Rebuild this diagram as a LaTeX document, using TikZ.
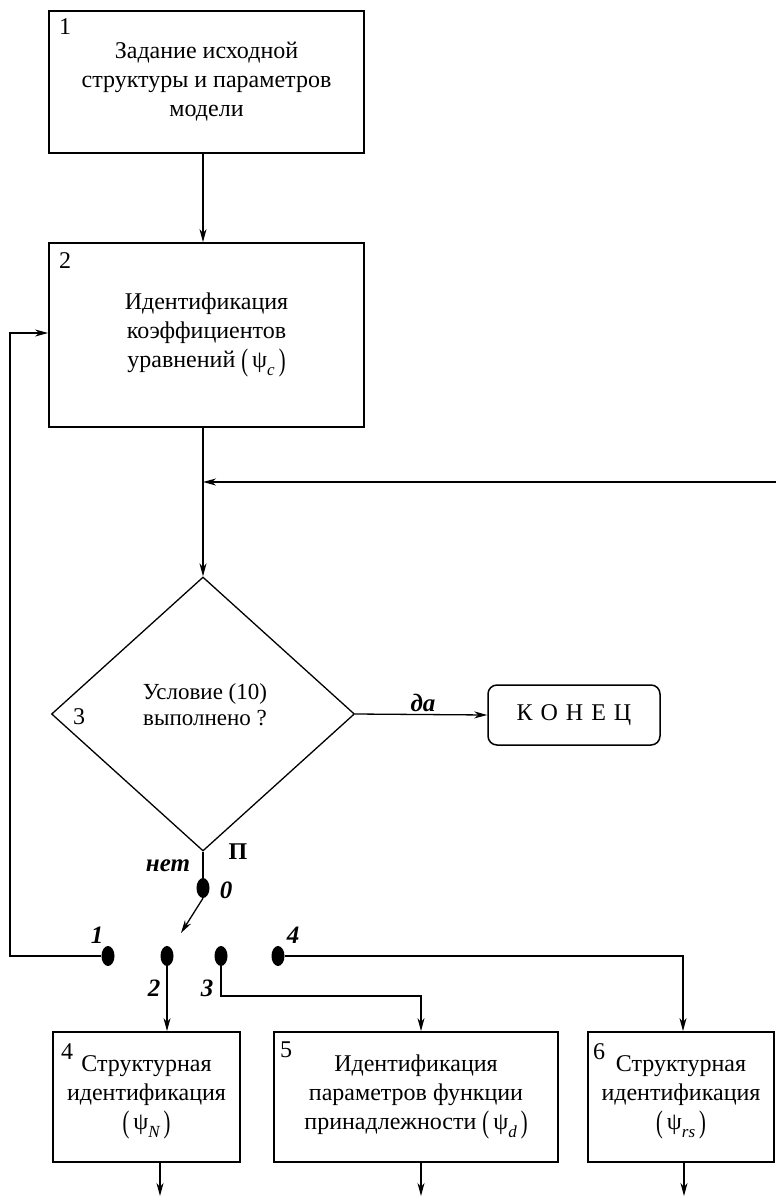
\documentclass[tikz,border=0pt]{standalone}
\usepackage{fontspec}
\setmainfont{Liberation Serif}
\usetikzlibrary{arrows.meta,shapes.geometric,calc}
\newcommand{\lpar}{\raisebox{-0.12em}{\scalebox{0.85}[1.3]{(}}}
\newcommand{\rpar}{\raisebox{-0.12em}{\scalebox{0.85}[1.3]{)}}}
\newcommand{\psisub}[1]{\lpar\,ψ\raisebox{-0.35em}{\fontsize{17}{17}\selectfont\itshape #1}\,\rpar}
\begin{document}
\begin{tikzpicture}[x=1pt,y=-1pt,
 every node/.style={font=\fontsize{24}{29}\selectfont},
 box/.style={draw, line width=1.8pt, inner sep=0pt, align=center},
 ln/.style={line width=1.3pt},
 arr/.style={ln, -{Stealth[length=13pt,width=7pt,inset=4pt]}},
 num/.style={anchor=north west, inner sep=0pt},
 dot/.style={ellipse, fill, minimum width=13pt, minimum height=20pt, inner sep=0pt},
 lab/.style={font=\fontsize{25}{26}\selectfont\bfseries\itshape, inner sep=0pt},
]
\useasboundingbox (0,0) rectangle (776,1196);

% boxes
\node[box, minimum width=315pt, minimum height=142pt] (b1) at (206.5,82) {Задание исходной\\структуры и параметров\\модели};
\node[num] (n1) at (59,18) {1};
\node[box, minimum width=315pt, minimum height=184pt] (b2) at (206.5,335) {Идентификация\\коэффициентов\\уравнений \psisub{c}};
\node[num] (n2) at (59,252) {2};

% diamond
\node[diamond, draw, line width=1.3pt, minimum width=303pt, minimum height=274pt, inner sep=0pt] (dm) at (203,714) {};
\node[align=center, font=\fontsize{23}{26}\selectfont] (dt) at (205,705) {Условие (10)\\выполнено ?};
\node (n3) at (79,717) {3};

\node[draw, line width=1.5pt, rounded corners=9pt, minimum width=172pt, minimum height=60pt] (end) at (574,715) {К\,\,О\,\,Н\,\,Е\,\,Ц};

% switch dots
\node[dot] (d0) at (203,888) {};
\node[dot] (d1) at (108,956) {};
\node[dot] (d2) at (167,956) {};
\node[dot] (d3) at (221,956) {};
\node[dot] (d4) at (278,956) {};

% bottom boxes
\node[box, minimum width=187pt, minimum height=130pt] (b4) at (146.5,1097) {Структурная\\идентификация\\\psisub{N}};
\node[num] (n4) at (61,1043) {4};
\node[box, minimum width=284pt, minimum height=130pt] (b5) at (416,1097) {Идентификация\\параметров функции\\принадлежности \psisub{d}};
\node[num] (n5) at (280,1042) {5};
\node[box, minimum width=186pt, minimum height=130pt] (b6) at (681,1097) {Структурная\\идентификация\\\psisub{rs}};
\node[num] (n6) at (593,1043) {6};

% labels
\node[lab] (lnet) at (168,866) {нет};
\node[font=\fontsize{24}{26}\selectfont\bfseries, inner sep=0pt] (lP) at (238,852) {П};
\node[lab] (l0) at (226,890) {0};
\node[lab] (lda) at (423,703) {да};
\node[lab] (l1) at (97,935) {1};
\node[lab] (l4) at (293,935) {4};
\node[lab] (l2) at (154,988) {2};
\node[lab] (l3) at (207,988) {3};

% coordinates
\coordinate (R) at (776,482);
\coordinate (J) at (203,482);
\coordinate (sw) at (181,933);
\coordinate (L1) at (10,956);
\coordinate (L2) at (10,333);
\coordinate (c3a) at (221,996);
\coordinate (c3b) at (421,996);
\coordinate (c4) at (683,956);
\coordinate (o4) at (160,1196);
\coordinate (o5) at (421,1196);
\coordinate (o6) at (684,1196);

% connectors
\draw[arr] (b1.south -| dm.north) -- (b2.north -| dm.north);
\draw[arr] (b2.south -| dm.north) -- (dm.north);
\draw[arr] (R) -- (J);
\draw[arr] (dm.east) -- (end.west);
\draw[ln] (dm.south) -- (d0.north);
\draw[arr] (d0.south) -- (sw);
\draw[arr] (d1.west) -- (L1) -- (L2) -- (L2 -| b2.west);
\draw[arr] (d2.south) -- (b4.north -| d2.south);
\draw[arr] (d3.south) -- (c3a) -- (c3b) -- (b5.north -| c3b);
\draw[arr] (d4.east) -- (c4) -- (b6.north -| c4);
\draw[arr] (b4.south -| o4) -- (o4);
\draw[arr] (b5.south -| o5) -- (o5);
\draw[arr] (b6.south -| o6) -- (o6);
\end{tikzpicture}
\end{document}
